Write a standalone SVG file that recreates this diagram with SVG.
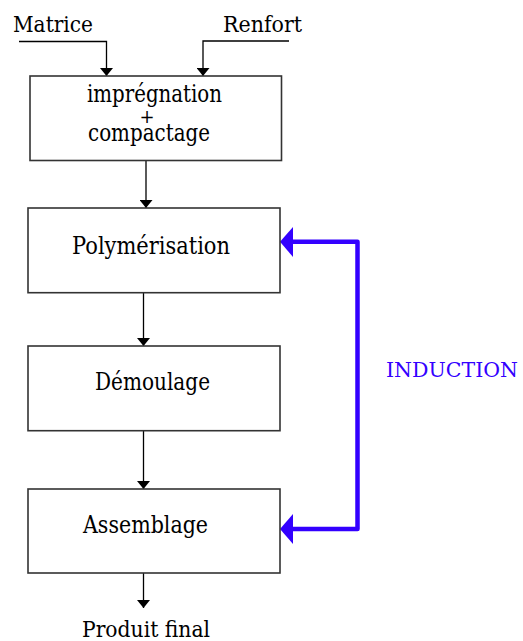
<svg xmlns="http://www.w3.org/2000/svg" width="523" height="641" viewBox="0 0 523 641">
<style>
.box{fill:#fff;stroke:#333;stroke-width:1.6}
text{font-family:'DejaVu Serif','Liberation Serif',serif;font-size:24px;fill:#000}
.c{text-anchor:middle}
.ln{fill:none;stroke:#000;stroke-width:1.3}
.bl{fill:none;stroke:#3300ff;stroke-width:4.5;stroke-linejoin:round}
.ind{fill:#3300ff}
</style>
<defs>
<marker id="ah" markerWidth="13" markerHeight="8" refX="6.5" refY="8" orient="0" markerUnits="userSpaceOnUse"><path d="M0,0 L13,0 L6.5,8 Z" fill="#000"/></marker>
</defs>
<rect width="523" height="641" fill="#fff"/>
<g id="connectors">
<path class="ln" d="M19,41.5 H106.5 V76" marker-end="url(#ah)"/>
<path class="ln" d="M289,41 H203 V76" marker-end="url(#ah)"/>
<path class="ln" d="M146,161 V208" marker-end="url(#ah)"/>
<path class="ln" d="M143.5,293 V346" marker-end="url(#ah)"/>
<path class="ln" d="M143.5,431 V489" marker-end="url(#ah)"/>
<path class="ln" d="M143.5,573 V608" marker-end="url(#ah)"/>
<path class="bl" d="M292,241.7 H357.5 V529 H292"/>
<path d="M280,241.7 L293,227 L293,257 Z" fill="#3300ff"/>
<path d="M280,529 L293,514 L293,544 Z" fill="#3300ff"/>
</g>
<g id="matrice"><text x="13" y="32" textLength="80" lengthAdjust="spacingAndGlyphs" style="font-size:22px">Matrice</text></g>
<g id="renfort"><text x="223" y="32" textLength="79" lengthAdjust="spacingAndGlyphs" style="font-size:22px">Renfort</text></g>
<g id="impregnation">
<rect class="box" x="30" y="76" width="251.5" height="84.5"/>
<text x="87" y="102" textLength="135" lengthAdjust="spacingAndGlyphs">imprégnation</text>
<text class="c" x="147" y="123" style="font-size:18px">+</text>
<text x="88" y="141" textLength="122" lengthAdjust="spacingAndGlyphs">compactage</text>
</g>
<g id="polymerisation">
<rect class="box" x="28" y="208" width="252" height="84.7"/>
<text x="72" y="254" textLength="158" lengthAdjust="spacingAndGlyphs">Polymérisation</text>
</g>
<g id="demoulage">
<rect class="box" x="28" y="346" width="252" height="84.7"/>
<text x="95" y="390" textLength="115" lengthAdjust="spacingAndGlyphs">Démoulage</text>
</g>
<g id="assemblage">
<rect class="box" x="28" y="489" width="252" height="84"/>
<text x="83" y="533" textLength="125" lengthAdjust="spacingAndGlyphs">Assemblage</text>
</g>
<g id="produit"><text x="82" y="637" textLength="128" lengthAdjust="spacingAndGlyphs" style="font-size:22px">Produit final</text></g>
<g id="induction"><text class="ind" x="386" y="377" textLength="132" lengthAdjust="spacingAndGlyphs" style="font-size:20px">INDUCTION</text></g>
</svg>
